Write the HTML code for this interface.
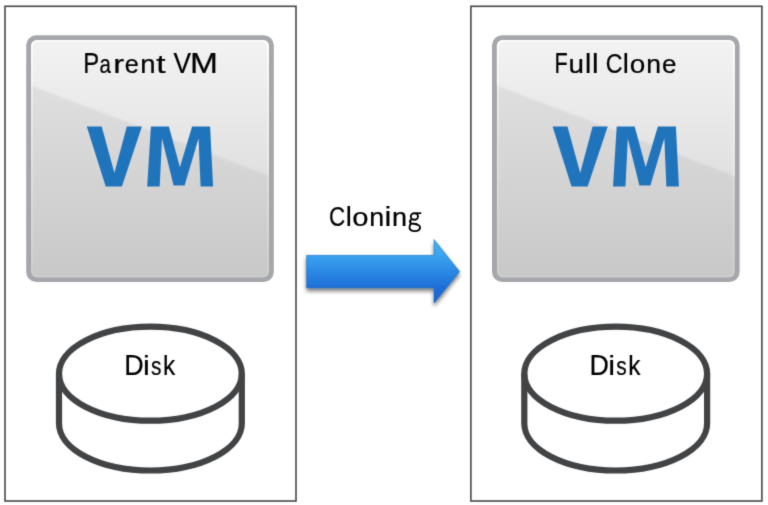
<!DOCTYPE html>
<html>
<head>
<meta charset="utf-8">
<title>Full Clone</title>
<style>
html,body{margin:0;padding:0;background:#fff;width:768px;height:505px;overflow:hidden;}
svg{display:block;}
text{font-family:"Liberation Sans",sans-serif;fill:#000;stroke:#000;stroke-width:0.22px;}
</style>
</head>
<body>
<svg width="768" height="505" viewBox="0 0 768 505">
<defs>
  <linearGradient id="vmTop" gradientUnits="userSpaceOnUse" x1="0" y1="40" x2="0" y2="176">
    <stop offset="0" stop-color="#f3f3f3"/>
    <stop offset="1" stop-color="#e0e0e0"/>
  </linearGradient>
  <linearGradient id="hl" gradientUnits="userSpaceOnUse" x1="0" y1="40" x2="0" y2="277">
    <stop offset="0" stop-color="#fff" stop-opacity="0.95"/>
    <stop offset="0.25" stop-color="#fff" stop-opacity="0.45"/>
    <stop offset="1" stop-color="#fff" stop-opacity="0.1"/>
  </linearGradient>
  <linearGradient id="vmBot" gradientUnits="userSpaceOnUse" x1="0" y1="40" x2="0" y2="277">
    <stop offset="0" stop-color="#e4e4e4"/>
    <stop offset="1" stop-color="#c8c8c8"/>
  </linearGradient>
  <linearGradient id="arr" gradientUnits="userSpaceOnUse" x1="0" y1="239.5" x2="0" y2="303.2">
    <stop offset="0" stop-color="#44b2f7"/>
    <stop offset="0.245" stop-color="#3aa3ef"/>
    <stop offset="0.76" stop-color="#1d6ed8"/>
    <stop offset="1" stop-color="#1864d2"/>
  </linearGradient>
  <filter id="glob" x="0" y="0" width="768" height="505" filterUnits="userSpaceOnUse" color-interpolation-filters="sRGB"><feConvolveMatrix order="3" kernelMatrix="1 6 1 6 36 6 1 6 1" divisor="64" edgeMode="duplicate" preserveAlpha="false"/></filter>
  <filter id="soft" x="-5%" y="-5%" width="110%" height="110%"><feGaussianBlur stdDeviation="0.9"/></filter>
  <filter id="sh" x="-20%" y="-20%" width="140%" height="160%">
    <feGaussianBlur in="SourceAlpha" stdDeviation="2"/>
    <feOffset dx="0" dy="3" result="b"/>
    <feComponentTransfer><feFuncA type="linear" slope="0.55"/></feComponentTransfer>
    <feMerge><feMergeNode/><feMergeNode in="SourceGraphic"/></feMerge>
  </filter>
  <clipPath id="vmclip"><rect x="31" y="40" width="238" height="237.5" rx="6"/></clipPath>
</defs>
<g filter="url(#glob)">
<rect x="0" y="0" width="768" height="505" fill="#fff"/>

<rect x="5" y="6.3" width="291" height="494.7" fill="none" stroke="#474747" stroke-width="1.6"/>
<rect x="470.9" y="6.3" width="291" height="494.7" fill="none" stroke="#474747" stroke-width="1.6"/>

<g>
  <rect x="26.2" y="35.2" width="247.6" height="246.8" rx="10" fill="#a5a7ab"/>
  <g clip-path="url(#vmclip)">
    <rect x="31" y="40" width="238" height="238" fill="url(#vmBot)"/>
    <polygon filter="url(#soft)" points="20,30 280,30 280,176 269,176 31,85.5 20,85.5" fill="url(#vmTop)"/>
    <rect x="31.9" y="40.9" width="236.2" height="235.7" rx="5.5" fill="none" stroke="url(#hl)" stroke-width="1.8"/>
  </g>
  <g fill="#2074bc" role="img" aria-label="VM">
    <polygon points="86.8,126.5 101.7,126.5 114.4,173 126.8,126.5 141.9,126.5 121.9,186.6 105.7,186.6"/>
    <polygon points="147.2,186.4 150.9,126.4 168.9,126.4 179.9,167.2 192.1,126.4 210.1,126.4 213.1,186.4 200.6,186.4 198.5,138.4 184.6,185.6 173.6,185.6 162.0,138.4 159.7,186.4"/>
  </g>
</g>
<g transform="translate(465.8,0)">
  <rect x="26.2" y="35.2" width="247.6" height="246.8" rx="10" fill="#a5a7ab"/>
  <g clip-path="url(#vmclip)">
    <rect x="31" y="40" width="238" height="238" fill="url(#vmBot)"/>
    <polygon filter="url(#soft)" points="20,30 280,30 280,176 269,176 31,85.5 20,85.5" fill="url(#vmTop)"/>
    <rect x="31.9" y="40.9" width="236.2" height="235.7" rx="5.5" fill="none" stroke="url(#hl)" stroke-width="1.8"/>
  </g>
  <g fill="#2074bc" role="img" aria-label="VM">
    <polygon points="86.8,126.5 101.7,126.5 114.4,173 126.8,126.5 141.9,126.5 121.9,186.6 105.7,186.6"/>
    <polygon points="147.2,186.4 150.9,126.4 168.9,126.4 179.9,167.2 192.1,126.4 210.1,126.4 213.1,186.4 200.6,186.4 198.5,138.4 184.6,185.6 173.6,185.6 162.0,138.4 159.7,186.4"/>
  </g>
</g>

<text transform="translate(83.34,72.6) scale(0.834,1)" font-size="28.6">P</text>
<text transform="translate(99.43,72.6) scale(0.821,1)" font-size="24.9">a</text>
<text transform="translate(113.22,72.6) scale(1.317,1)" font-size="24.9">r</text>
<text transform="translate(124.72,72.6) scale(1.018,1)" font-size="24.9">e</text>
<text transform="translate(140.17,72.6) scale(1.106,1)" font-size="24.9">n</text>
<text transform="translate(156.29,72.6) scale(1.280,1)" font-size="26.3">t</text>
<text transform="translate(173.38,72.6) scale(0.919,1)" font-size="28.6">V</text>
<text transform="translate(190.05,72.6) scale(1.171,1)" font-size="28.6">M</text>
<text transform="translate(554.62,72.7) scale(0.758,1)" font-size="28.6">F</text>
<text transform="translate(568.60,72.7) scale(1.116,1)" font-size="24.9">u</text>
<text transform="translate(584.98,72.7) scale(1.012,1)" font-size="28.1">l</text>
<text transform="translate(592.01,72.7) scale(1.053,1)" font-size="28.1">l</text>
<text transform="translate(605.72,72.7) scale(0.829,1)" font-size="28.0">C</text>
<text transform="translate(622.66,72.7) scale(0.972,1)" font-size="28.1">l</text>
<text transform="translate(629.63,72.7) scale(1.123,1)" font-size="24.9">o</text>
<text transform="translate(646.13,72.7) scale(1.068,1)" font-size="24.9">n</text>
<text transform="translate(662.00,72.7) scale(1.044,1)" font-size="24.9">e</text>

<g fill="none" stroke="#414345" stroke-width="6.2">
  <path d="M59,373.7 L59,423.5 A91.4,47 0 0 0 241.8,423.5 L241.8,373.7"/>
  <ellipse cx="150.4" cy="373.7" rx="91.4" ry="47"/>
</g>
<g transform="translate(465.3,0)">
<g fill="none" stroke="#414345" stroke-width="6.2">
  <path d="M59,373.7 L59,423.5 A91.4,47 0 0 0 241.8,423.5 L241.8,373.7"/>
  <ellipse cx="150.4" cy="373.7" rx="91.4" ry="47"/>
</g>
</g>
<text transform="translate(124.20,374.6) scale(0.939,1)" font-size="28.6">D</text>
<text transform="translate(143.04,374.6) scale(1.146,1)" font-size="26.8">i</text>
<text transform="translate(150.92,374.6) scale(0.838,1)" font-size="24.9">s</text>
<text transform="translate(163.05,374.6) scale(0.869,1)" font-size="28.1">k</text>
<text transform="translate(589.50,374.6) scale(0.939,1)" font-size="28.6">D</text>
<text transform="translate(608.34,374.6) scale(1.146,1)" font-size="26.8">i</text>
<text transform="translate(616.22,374.6) scale(0.838,1)" font-size="24.9">s</text>
<text transform="translate(628.35,374.6) scale(0.869,1)" font-size="28.1">k</text>

<g aria-label="Cloning">
<text transform="translate(328.96,226.0) scale(0.801,1)" font-size="28.0">C</text>
<text transform="translate(345.66,226.0) scale(0.972,1)" font-size="28.1">l</text>
<text transform="translate(352.17,226.0) scale(1.174,1)" font-size="24.9">o</text>
<text transform="translate(369.22,226.0) scale(1.078,1)" font-size="24.9">n</text>
<text transform="translate(384.55,226.0) scale(1.146,1)" font-size="26.8">i</text>
<text transform="translate(392.00,226.0) scale(1.087,1)" font-size="24.9">n</text>
<g fill="none" stroke="#000" stroke-width="1.9">
  <ellipse cx="414.4" cy="216.5" rx="3.6" ry="3.2"/>
  <path d="M415.6,213.2 L421.3,213.2" stroke-width="1.7"/>
  <path d="M411.4,219.4 C409.6,220.6 409.4,222.6 411.5,223.6 L417.5,224.3" stroke-width="2.1"/>
  <path d="M411.3,223.6 C409.9,224.3 409.5,225.9 409.5,227.6 C409.5,230.3 411.9,231.1 414.9,231.1 C418.4,231.1 420.0,229.8 420.0,227.6 C420.0,225.4 418.6,224.6 415.5,224.4"/>
</g>
</g>
<polygon filter="url(#sh)" points="306.6,255.3 434,255.3 434,239.5 459.6,271.5 434,303.2 434,287.8 306.6,287.8" fill="url(#arr)" stroke="#1a5fb5" stroke-opacity="0.55" stroke-width="0.9" stroke-linejoin="miter"/>
</g>
</svg>
</body>
</html>
